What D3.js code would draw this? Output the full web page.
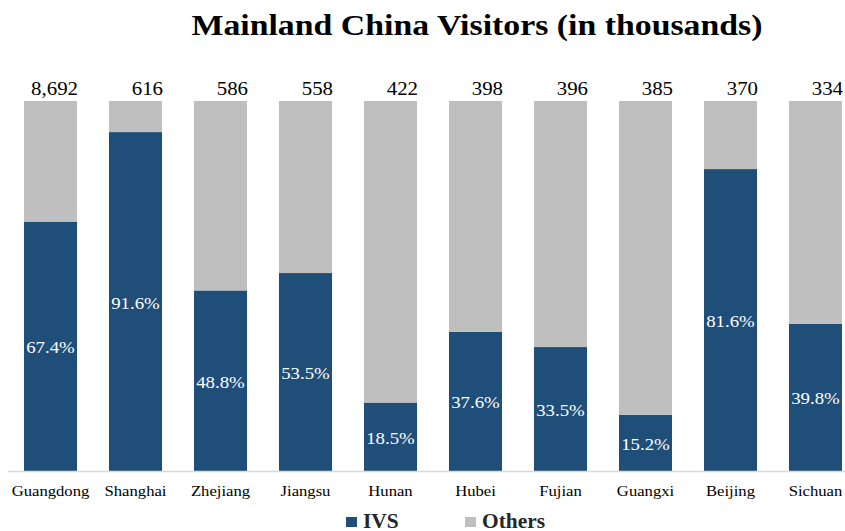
<!DOCTYPE html>
<html><head><meta charset="utf-8">
<script src="https://cdn.jsdelivr.net/npm/d3@7"></script>
<style>body{margin:0;background:#fff}svg{display:block}</style>
</head><body>
<svg id="c" width="845" height="531"></svg>
<script>
const categories = ["Guangdong","Shanghai","Zhejiang","Jiangsu","Hunan","Hubei","Fujian","Guangxi","Beijing","Sichuan"];
const totals = [8692,616,586,558,422,398,396,385,370,334];
const ivsPct = [67.4,91.6,48.8,53.5,18.5,37.6,33.5,15.2,81.6,39.8];
const othersPct = ivsPct.map(v => 100 - v);
const seriesNames = ["IVS","Others"];
const colors = {IVS:"#1F4E79", Others:"#BFBFBF"};

const data = categories.map((c,i)=>({cat:c, IVS:ivsPct[i], Others:othersPct[i], total:totals[i]}));
const svg = d3.select("#c");
const serif = "Liberation Serif, Times New Roman, serif";

const x = d3.scaleBand().domain(categories).range([8,858]).paddingInner(0.376).paddingOuter(0.188);
const y = d3.scaleLinear().domain([0,100]).range([471,101]);

const stack = d3.stack().keys(seriesNames)(data);
svg.append("g").selectAll("g").data(stack).join("g")
  .attr("fill", d => colors[d.key])
  .selectAll("rect").data(d => d).join("rect")
  .attr("x", d => x(d.data.cat))
  .attr("width", x.bandwidth())
  .attr("y", d => y(d[1]))
  .attr("height", d => y(d[0]) - y(d[1]));

// axis line
svg.append("line").attr("x1",8).attr("x2",845).attr("y1",471.5).attr("y2",471.5)
  .attr("stroke","#D9D9D9").attr("stroke-width",1.5);

// IVS labels
svg.append("g").selectAll("text").data(data).join("text")
  .attr("transform", d => `translate(${x(d.cat) + x.bandwidth()/2},${(y(0) + y(d.IVS))/2 + 7}) scale(1.14,1)`)
  .attr("text-anchor","middle").attr("fill","#fff")
  .attr("font-family",serif).attr("font-size",16.5)
  .text(d => d.IVS.toFixed(1) + "%");

// totals
svg.append("g").selectAll("text").data(data).join("text")
  .attr("transform", d => `translate(${x(d.cat) + x.bandwidth() + 1},94.5) scale(1.16,1)`)
  .attr("text-anchor","end").attr("fill","#000")
  .attr("font-family",serif).attr("font-size",18)
  .text(d => d3.format(",")(d.total));

// category labels
const xAxis = svg.append("g").attr("transform","translate(0,471)")
  .call(d3.axisBottom(x).tickSize(0).tickPadding(14));
xAxis.select(".domain").remove();
xAxis.selectAll("text").attr("font-family",serif).attr("font-size",15)
  .attr("fill","#000").attr("transform","scale(1.11,1)");

// title
svg.append("text").attr("transform","translate(477,35) scale(1.127,1)").attr("text-anchor","middle")
  .attr("font-family",serif).attr("font-weight","bold").attr("font-size",30)
  .text("Mainland China Visitors (in thousands)");

// legend
const legX = [346, 465];
const lg = svg.append("g").selectAll("g").data(seriesNames).join("g")
  .attr("transform",(d,i)=>`translate(${legX[i]},517)`);
lg.append("rect").attr("width",11).attr("height",10).attr("fill",d=>colors[d]);
lg.append("text").attr("transform","translate(17,11) scale(1.07,1)").attr("font-family",serif)
  .attr("font-weight","bold").attr("font-size",20).attr("fill","#262626").text(d=>d);
</script>
</body></html>
